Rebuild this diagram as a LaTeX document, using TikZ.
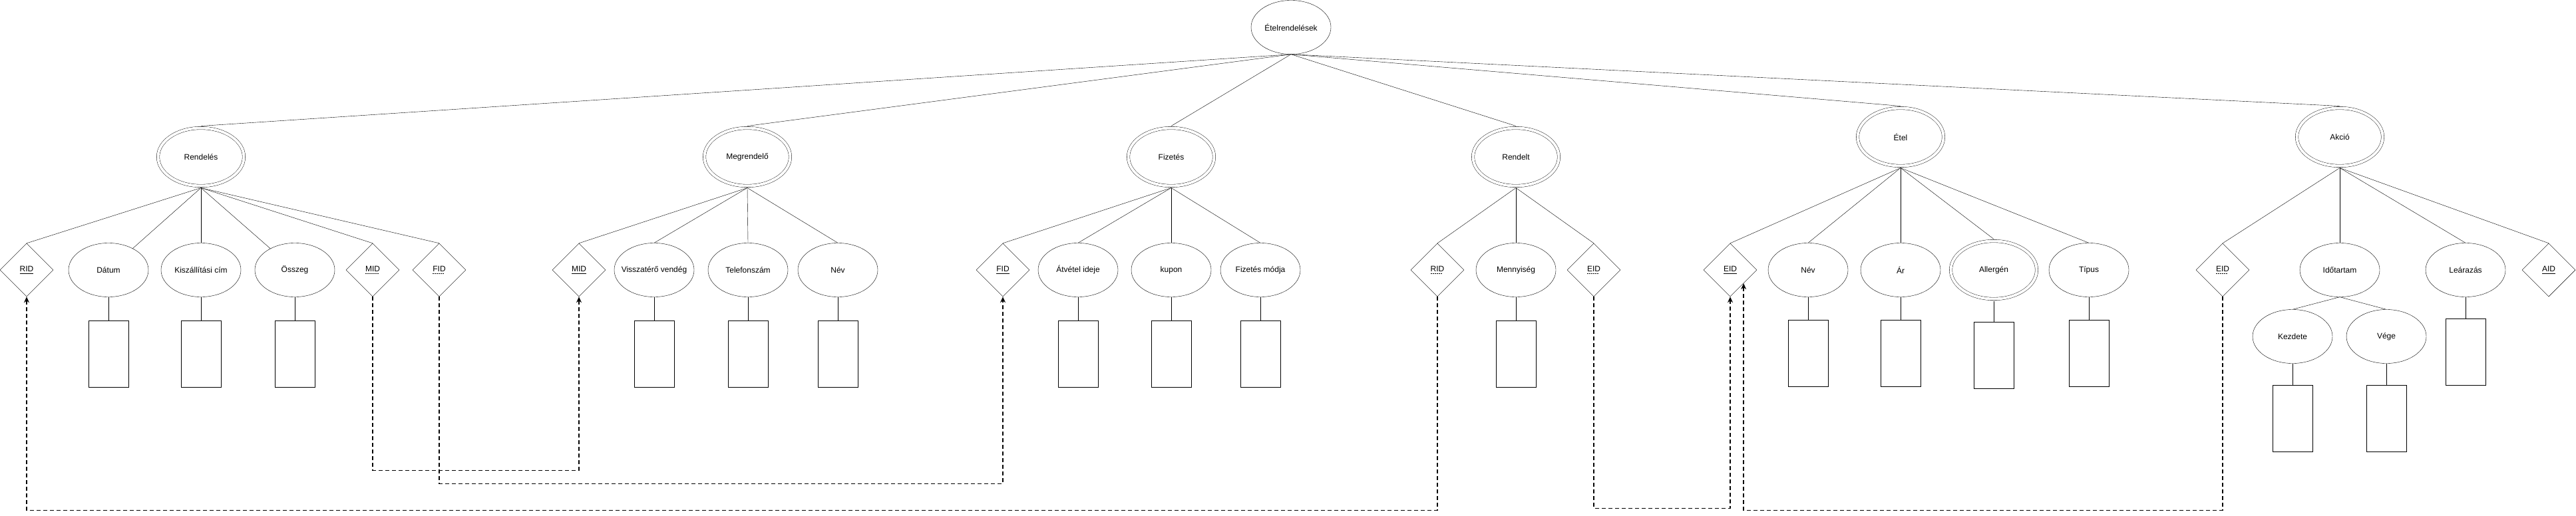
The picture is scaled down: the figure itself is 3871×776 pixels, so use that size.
\documentclass[tikz,border=0pt]{standalone}
\usepackage{fontspec}
\setmainfont{Liberation Sans}
\usepackage{tikz}
\usetikzlibrary{shapes.geometric}
\usetikzlibrary{arrows.meta}
\pgfdeclarelayer{nodelayer}
\pgfdeclarelayer{edgelayer}
\pgfsetlayers{nodelayer,edgelayer,main}
\tikzset{
    entity/.style = {ellipse, draw, double, double distance=4pt, minimum width=129pt, minimum height=87pt, outer sep=3pt, inner xsep=-10pt, inner ysep=0pt},
    attrib/.style = {ellipse, draw, minimum width=120pt, minimum height=81pt, inner xsep=-10pt, inner ysep=0pt},
    keybox/.style = {diamond, draw, minimum width=80pt, minimum height=80pt, inner sep=0pt},
    valbox/.style = {rectangle, draw, minimum width=60pt, minimum height=100pt, inner sep=0pt},
    fkline/.style = {line width=1.3pt, dash pattern=on 6pt off 4pt, -{Stealth[length=9pt, width=8pt]}}
}
% key labels: solid underline, partial keys dotted underline
\newcommand{\fullkey}[1]{\setbox0\hbox{#1}\vtop{\copy0\nointerlineskip\kern2pt\hrule height0.8pt width\wd0}}
\newcommand{\partkey}[1]{\setbox0\hbox{#1}\vtop{\copy0\nointerlineskip\kern2pt\hbox to\wd0{\leaders\hbox to 3pt{\vrule width2pt height0.9pt\hss}\hfill}}}

\begin{document}
\begin{tikzpicture}[x=1pt, y=-1pt, font=\fontsize{12}{14}\selectfont]
    \useasboundingbox (0, 0) rectangle (3871, 776);
    \begin{pgfonlayer}{nodelayer}
        \node [style=attrib] (0) at (1940, 41) {Ételrendelések};
        \node [style=entity] (1) at (302, 236) {Rendelés};
        \node [style=entity] (2) at (1123, 236) {Megrendelő};
        \node [style=entity] (3) at (1760, 236) {Fizetés};
        \node [style=entity] (4) at (2278, 236) {Rendelt};
        \node [style=entity] (5) at (2856, 206) {Étel};
        \node [style=entity] (6) at (3516, 206) {Akció};
        \node [style=keybox] (7) at (40, 406) {\fullkey{RID}};
        \node [style=attrib] (8) at (163, 406) {Dátum};
        \node [style=attrib] (9) at (302, 406) {Kiszállítási cím};
        \node [style=attrib] (10) at (443, 406) {Összeg};
        \node [style=keybox] (11) at (560, 406) {\partkey{MID}};
        \node [style=keybox] (12) at (660, 406) {\partkey{FID}};
        \node [style=keybox] (13) at (870, 406) {\fullkey{MID}};
        \node [style=attrib] (14) at (983, 406) {Visszatérő vendég};
        \node [style=attrib] (15) at (1124, 406) {Telefonszám};
        \node [style=attrib] (16) at (1259, 406) {Név};
        \node [style=keybox] (17) at (1507, 406) {\fullkey{FID}};
        \node [style=attrib] (18) at (1620, 406) {Átvétel ideje};
        \node [style=attrib] (19) at (1760, 406) {kupon};
        \node [style=attrib] (20) at (1894, 406) {Fizetés módja};
        \node [style=keybox] (21) at (2160, 406) {\partkey{RID}};
        \node [style=attrib] (22) at (2278, 406) {Mennyiség};
        \node [style=keybox] (23) at (2395, 406) {\partkey{EID}};
        \node [style=keybox] (24) at (2600, 406) {\fullkey{EID}};
        \node [style=attrib] (25) at (2717, 406) {Név};
        \node [style=attrib] (26) at (2856, 406) {Ár};
        \node [style=entity] (27) at (2996, 406) {Allergén};
        \node [style=attrib] (28) at (3139, 406) {Típus};
        \node [style=keybox] (29) at (3340, 406) {\partkey{EID}};
        \node [style=attrib] (30) at (3516, 406) {Időtartam};
        \node [style=attrib] (31) at (3705, 406) {Leárazás};
        \node [style=keybox] (32) at (3830, 406) {\fullkey{AID}};
        \node [style=attrib] (33) at (3445, 506) {Kezdete};
        \node [style=attrib] (34) at (3586, 506) {Vége};
        \node [style=valbox] (35) at (163, 532) {};
        \node [style=valbox] (36) at (302, 532) {};
        \node [style=valbox] (37) at (443, 532) {};
        \node [style=valbox] (38) at (983, 532) {};
        \node [style=valbox] (39) at (1124, 532) {};
        \node [style=valbox] (40) at (1259, 532) {};
        \node [style=valbox] (41) at (1620, 532) {};
        \node [style=valbox] (42) at (1760, 532) {};
        \node [style=valbox] (43) at (1894, 532) {};
        \node [style=valbox] (44) at (2278, 532) {};
        \node [style=valbox] (45) at (2717, 531) {};
        \node [style=valbox] (46) at (2856, 531) {};
        \node [style=valbox] (47) at (2996, 534) {};
        \node [style=valbox] (48) at (3139, 531) {};
        \node [style=valbox] (49) at (3705, 529) {};
        \node [style=valbox] (50) at (3445, 629) {};
        \node [style=valbox] (51) at (3586, 629) {};
    \end{pgfonlayer}
    \begin{pgfonlayer}{edgelayer}
        \draw (0.south) to (1.north);
        \draw (0.south) to (2.north);
        \draw (0.south) to (3.north);
        \draw (0.south) to (4.north);
        \draw (0.south) to (5.north);
        \draw (0.south) to (6.north);
        \draw (1.south) to (7.north);
        \draw (1.south) to (8);
        \draw (1.south) to (9.north);
        \draw (1.south) to (10);
        \draw (1.south) to (11.north);
        \draw (1.south) to (12.north);
        \draw (2.south) to (13.north);
        \draw (2.south) to (14.north);
        \draw (2.south) to (15.north);
        \draw (2.south) to (16.north);
        \draw (3.south) to (17.north);
        \draw (3.south) to (18.north);
        \draw (3.south) to (19.north);
        \draw (3.south) to (20.north);
        \draw (4.south) to (21.north);
        \draw (4.south) to (22.north);
        \draw (4.south) to (23.north);
        \draw (5.south) to (24.north);
        \draw (5.south) to (25.north);
        \draw (5.south) to (26.north);
        \draw (5.south) to (27.north);
        \draw (5.south) to (28.north);
        \draw (6.south) to (29.north);
        \draw (6.south) to (30.north);
        \draw (6.south) to (31.north);
        \draw (6.south) to (32.north);
        \draw (30.south) to (33.north);
        \draw (30.south) to (34.north);
        \draw (8.south) to (35.north);
        \draw (9.south) to (36.north);
        \draw (10.south) to (37.north);
        \draw (14.south) to (38.north);
        \draw (15.south) to (39.north);
        \draw (16.south) to (40.north);
        \draw (18.south) to (41.north);
        \draw (19.south) to (42.north);
        \draw (20.south) to (43.north);
        \draw (22.south) to (44.north);
        \draw (25.south) to (45.north);
        \draw (26.south) to (46.north);
        \draw (27.south) to (47.north);
        \draw (28.south) to (48.north);
        \draw (31.south) to (49.north);
        \draw (33.south) to (50.north);
        \draw (34.south) to (51.north);
        % foreign keys, routed below the boxes
        \draw [style=fkline] (11.south) -- ++(0, 261) -| (13.south);
        \draw [style=fkline] (12.south) -- ++(0, 281) -| (17.south);
        \draw [style=fkline] (21.south) -- ++(0, 321) -| (7.south);
        \draw [style=fkline] (23.south) -- ++(0, 318) -| (24.south);
        \draw [style=fkline] (29.south) -- ++(0, 321) -| (24.south east);
    \end{pgfonlayer}
\end{tikzpicture}
\end{document}
